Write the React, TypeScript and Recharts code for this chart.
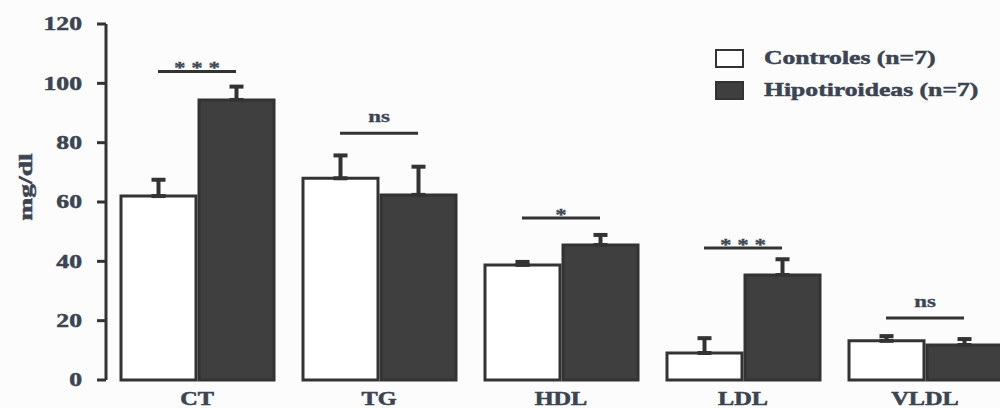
import { ComposedChart, Bar, ErrorBar, Scatter, XAxis, YAxis, Legend } from 'recharts'

const categories = ['CT', 'TG', 'HDL', 'LDL', 'VLDL']
const controles = [62, 68, 38.8, 9.1, 13.2]
const controlesErr = [5.5, 7.7, 1, 5, 1.6]
const hipotiroideas = [94.4, 62.4, 45.5, 35.4, 11.8]
const hipotiroideasErr = [4.5, 9.5, 3.4, 5.3, 2]
const sigLabels = ['* * *', 'ns', '*', '* * *', 'ns']
const sigLevels = [104, 83.2, 54.6, 44.5, 20.9]
const yTicks = [0, 20, 40, 60, 80, 100, 120]

const data = categories.map((cat, i) => ({
  cat,
  ctrl: controles[i],
  ctrlErr: [0, controlesErr[i]],
  hypo: hipotiroideas[i],
  hypoErr: [0, hipotiroideasErr[i]],
  sig: sigLevels[i],
  sigLabel: sigLabels[i],
}))

const FONT = '"Liberation Serif", "Times New Roman", serif'
const TEXT = '#3b4452'
const INK = '#333333'
const DARK = '#3f3f3f'
const STRETCH = 1.35

// heavier, slightly widened serif text used by every label
const textStyle = {
  fontFamily: FONT,
  fontWeight: 'bold' as const,
  fill: TEXT,
  stroke: TEXT,
  strokeWidth: 0.5,
}

const YTick = ({ x, y, payload }: any) => (
  <text
    transform={`translate(${x},${y}) scale(${STRETCH},1)`}
    textAnchor="end"
    dominantBaseline="central"
    fontSize={19}
    {...textStyle}
  >
    {payload.value}
  </text>
)

const XTick = ({ x, y, payload }: any) => (
  <text
    transform={`translate(${x},${y + 23}) scale(${STRETCH},1)`}
    textAnchor="middle"
    fontSize={18}
    {...textStyle}
  >
    {payload.value}
  </text>
)

// bracket line over each pair with its significance mark
const SigMark = ({ cx, cy, payload }: any) => {
  const stars = payload.sigLabel.includes('*')
  return (
    <g>
      <line x1={cx - 39} x2={cx + 39} y1={cy} y2={cy} stroke={INK} strokeWidth={3} />
      <text
        transform={`translate(${cx},${stars ? cy + 2 : cy - 11}) scale(${STRETCH},1)`}
        textAnchor="middle"
        fontSize={stars ? 17 : 17}
        {...textStyle}
        strokeWidth={0.3}
      >
        {payload.sigLabel}
      </text>
    </g>
  )
}

const YLabel = ({ viewBox }: any) => (
  <text
    transform={`translate(26,${viewBox.y + viewBox.height / 2 - 15}) rotate(-90) scale(1.45,1)`}
    textAnchor="middle"
    dominantBaseline="central"
    fontSize={19}
    {...textStyle}
  >
    mg/dl
  </text>
)

const LegendBox = ({ payload }: any) => (
  <div>
    {(payload || [])
      .filter((entry: any) => entry.type !== 'none' && entry.dataKey !== 'sig')
      .map((entry: any) => (
        <div key={entry.value} style={{ display: 'flex', alignItems: 'center', height: 32 }}>
          <div
            style={{
              width: 25,
              height: 15,
              background: entry.payload?.fill ?? entry.color,
              border: `2.5px solid ${INK}`,
            }}
          />
          <span
            style={{
              marginLeft: 20,
              fontFamily: FONT,
              fontWeight: 'bold',
              fontSize: 19,
              color: TEXT,
              WebkitTextStroke: `0.5px ${TEXT}`,
              transform: `scaleX(${STRETCH})`,
              transformOrigin: 'left center',
              whiteSpace: 'nowrap',
            }}
          >
            {entry.value}
          </span>
        </div>
      ))}
  </div>
)

export default function App() {
  return (
    <div
      style={{
        position: 'fixed',
        left: 0,
        top: 0,
        width: 1000,
        height: 408,
        overflow: 'hidden',
        background: '#fcfcfc',
      }}
    >
      <ComposedChart width={1016} height={408} data={data} margin={{ top: 24, right: 0, bottom: 0, left: 0 }} barSize={75} barGap={3}>
        <XAxis dataKey="cat" axisLine={false} tickLine={false} tickSize={0} height={28} tick={<XTick />} interval={0} />
        <YAxis
          domain={[0, 120]}
          ticks={yTicks}
          width={106}
          axisLine={{ stroke: INK, strokeWidth: 3 }}
          tickLine={{ stroke: INK, strokeWidth: 3 }}
          tickSize={9}
          tickMargin={15}
          tick={<YTick />}
          label={{ content: <YLabel /> }}
        />
        <Legend
          verticalAlign="middle"
          align="center"
          layout="vertical"
          content={<LegendBox />}
          wrapperStyle={{ top: 42, left: 715, width: 280 }}
        />
        <Bar dataKey="ctrl" name="Controles (n=7)" fill="#ffffff" stroke={INK} strokeWidth={3} isAnimationActive={false}>
          <ErrorBar dataKey="ctrlErr" direction="y" width={7} stroke={INK} strokeWidth={4} isAnimationActive={false} />
        </Bar>
        <Bar dataKey="hypo" name="Hipotiroideas (n=7)" fill={DARK} stroke={INK} strokeWidth={3} isAnimationActive={false}>
          <ErrorBar dataKey="hypoErr" direction="y" width={7} stroke={INK} strokeWidth={4} isAnimationActive={false} />
        </Bar>
        <Scatter dataKey="sig" shape={<SigMark />} legendType="none" isAnimationActive={false} />
      </ComposedChart>
    </div>
  )
}
